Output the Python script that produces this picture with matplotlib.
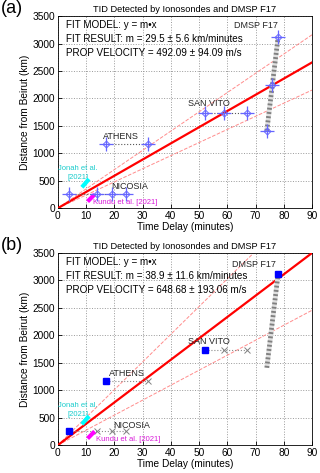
import matplotlib
matplotlib.use("Agg")
import matplotlib.pyplot as plt
import numpy as np

plt.rcParams['font.family'] = ['Liberation Sans', 'DejaVu Sans']

# station detections: time delay (min) and distance from Beirut (km)
nicosia_t = [4, 14, 19, 24]
nicosia_d = [250, 250, 250, 250]
athens_t = [17, 32]
athens_d = [1170, 1170]
sanvito_t = [52, 59, 67]
sanvito_d = [1730, 1730, 1730]
dmsp_t = [74, 76, 78]
dmsp_d = [1410, 2250, 3120]

# previous studies
jonah_t = [8.5, 11]
jonah_d = [380, 530]
kundu_t = [10.5, 13]
kundu_d = [120, 250]

# fits (slope, error) in km/min
fit_a = (29.5, 5.6)
fit_b = (38.9, 11.6)
vel_a = "492.09 \u00b1 94.09"
vel_b = "648.68 \u00b1 193.06"

xfit = np.array([0, 90])

fig = plt.figure(figsize=(3.2, 4.73), dpi=100)
ax_a = fig.add_axes([0.181, 0.560, 0.794, 0.406])
ax_b = fig.add_axes([0.181, 0.059, 0.794, 0.406])

blue = (0.4, 0.4, 1.0)


def setup(ax, label):
    ax.set_xlim(0, 90)
    ax.set_ylim(0, 3500)
    ax.set_xticks(range(0, 91, 10))
    ax.set_yticks(range(0, 3501, 500))
    ax.grid(True, linestyle=':', color='0.6', linewidth=0.7)
    ax.tick_params(direction='in', labelsize=7.3, length=3, width=0.6, pad=2)
    for s in ax.spines.values():
        s.set_linewidth(0.6)
    ax.set_title("TID Detected by Ionosondes and DMSP F17", fontsize=6.7, pad=3)
    ax.set_xlabel("Time Delay (minutes)", fontsize=7.3, labelpad=1)
    ax.set_ylabel("Distance from Beirut (km)", fontsize=7.3, labelpad=2)
    ax.text(-0.18, 1.04, label, transform=ax.transAxes, fontsize=13,
            ha='center', va='center')


def fit_lines(ax, fit):
    m, e = fit
    ax.plot(xfit, (m + e) * xfit, '--', color=(1, 0.55, 0.55), lw=0.7, zorder=2)
    ax.plot(xfit, (m - e) * xfit, '--', color=(1, 0.55, 0.55), lw=0.7, zorder=2)
    ax.plot(xfit, m * xfit, '-', color='red', lw=1.6, zorder=3)


def fit_text(ax, fit, vel):
    m, e = fit
    lines = ["FIT MODEL: y = m\u2022x",
             "FIT RESULT: m = %.1f \u00b1 %.1f km/minutes" % (m, e),
             "PROP VELOCITY = %s m/s" % vel]
    for i, s in enumerate(lines):
        ax.text(2.8, 3330 - i * 255, s, fontsize=7.1, va='center', ha='left')


def dmsp_band(ax):
    ax.plot([dmsp_t[0], dmsp_t[-1]], [dmsp_d[0], dmsp_d[-1]], color='0.88',
            lw=3.4, solid_capstyle='butt', zorder=4)
    ax.plot([dmsp_t[0], dmsp_t[-1]], [dmsp_d[0], dmsp_d[-1]], color='0.5',
            lw=3.4, dashes=(0.4, 0.5), zorder=4)


def labels(ax, pos):
    ax.text(*pos['DMSP'], "DMSP F17", fontsize=6.5, ha='center', va='center', color='0.15')
    ax.text(*pos['SAN'], "SAN VITO", fontsize=6.5, ha='center', va='center', color='0.15')
    ax.text(*pos['ATH'], "ATHENS", fontsize=6.5, ha='center', va='center', color='0.15')
    ax.text(*pos['NIC'], "NICOSIA", fontsize=6.5, ha='center', va='center', color='0.15')
    ax.text(*pos['JON'], "Jonah et al.\n[2021]", fontsize=5.5, ha='center', va='center',
            color=(0.1, 0.8, 0.8), linespacing=1.4)
    ax.text(*pos['KUN'], "Kundu et al. [2021]", fontsize=5.5, ha='left', va='center',
            color=(0.85, 0.1, 0.85))


def studies(ax):
    ax.plot(jonah_t, jonah_d, color='cyan', lw=3, solid_capstyle='butt', zorder=5)
    ax.plot(kundu_t, kundu_d, color='magenta', lw=3, solid_capstyle='butt', zorder=5)


# ---- panel (a)
ax = ax_a
setup(ax, "(a)")
fit_lines(ax, fit_a)
for t, d in [(nicosia_t, nicosia_d), (athens_t, athens_d), (sanvito_t, sanvito_d)]:
    ax.plot(t, d, ':', color='0.35', lw=0.8, zorder=4)
dmsp_band(ax)
for t, d in [(nicosia_t, nicosia_d), (athens_t, athens_d), (sanvito_t, sanvito_d),
             (dmsp_t, dmsp_d)]:
    ax.plot(t, d, '+', color=blue, ms=10, mew=0.9, ls='none', zorder=6)
    ax.plot(t, d, 'D', color=blue, ms=3.5, mfc='none', mew=0.7, ls='none', zorder=6)
studies(ax)
fit_text(ax, fit_a, vel_a)
labels(ax, {'DMSP': (70.2, 3330), 'SAN': (53.5, 1900), 'ATH': (22.2, 1310),
            'NIC': (25.5, 400), 'JON': (7, 640), 'KUN': (12.6, 95)})

# ---- panel (b)
ax = ax_b
setup(ax, "(b)")
fit_lines(ax, fit_b)
for t, d in [(nicosia_t, nicosia_d), (athens_t, athens_d), (sanvito_t, sanvito_d)]:
    ax.plot(t, d, ':', color='0.55', lw=0.8, zorder=4)
    ax.plot(t[1:], d[1:], 'x', color='0.5', ms=4, mew=0.7, ls='none', zorder=4)
dmsp_band(ax)
for t, d in [(nicosia_t, nicosia_d), (athens_t, athens_d), (sanvito_t, sanvito_d)]:
    ax.plot(t[:1], d[:1], 's', color='blue', ms=4, ls='none', zorder=6)
ax.plot(dmsp_t[-1:], dmsp_d[-1:], 's', color='blue', ms=4, ls='none', zorder=6)
studies(ax)
fit_text(ax, fit_b, vel_b)
labels(ax, {'DMSP': (69.3, 3290), 'SAN': (53.4, 1880), 'ATH': (24.5, 1310),
            'NIC': (26.1, 365), 'JON': (7, 640), 'KUN': (13.6, 105)})

fig.savefig("out.png", dpi=100)
